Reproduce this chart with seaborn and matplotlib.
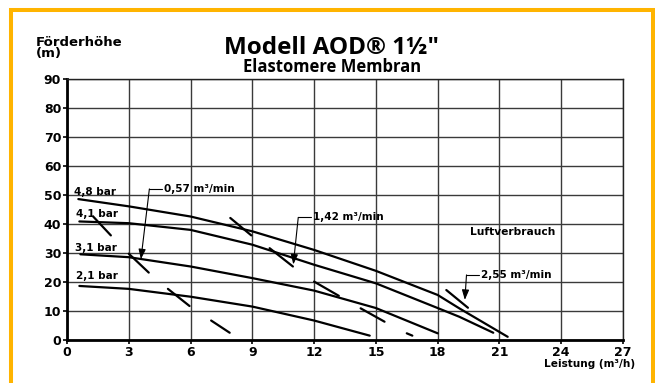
import matplotlib
matplotlib.use("Agg")
import matplotlib.pyplot as plt
import seaborn as sns
import pandas as pd
from matplotlib.patches import Rectangle

# ---------------- data ----------------
curve_labels = ["4,8 bar", "4,1 bar", "3,1 bar", "2,1 bar"]
flow_48 = [0.55, 3, 6, 9, 12, 15, 18, 19.05, 21.4]
head_48 = [48.5, 46.0, 42.5, 37.4, 31.0, 23.8, 15.5, 10.9, 1.1]
flow_41 = [0.6, 3, 6, 9, 12, 15, 18, 19.05, 20.7]
head_41 = [40.8, 40.2, 37.9, 32.8, 25.9, 19.5, 11.0, 8.0, 2.5]
flow_31 = [0.65, 3, 6, 9, 12, 15, 18.0]
head_31 = [29.5, 28.5, 25.3, 21.3, 17.0, 11.0, 2.3]
flow_21 = [0.6, 3, 6, 9, 12, 14.7]
head_21 = [18.6, 17.6, 14.9, 11.5, 6.7, 1.5]

# air consumption iso-segments (start / end)
seg_x0 = [1.27, 3.0, 4.9, 7.0, 7.93, 9.84, 12.0, 14.26, 16.5, 18.42]
seg_y0 = [42.5, 29.7, 17.6, 6.7, 42.0, 31.6, 20.1, 10.9, 2.3, 17.2]
seg_x1 = [2.13, 3.97, 5.95, 7.9, 8.95, 10.97, 13.2, 15.42, 16.77, 19.47]
seg_y1 = [36.0, 23.2, 11.7, 2.5, 36.0, 25.3, 15.2, 6.3, 1.5, 11.1]

# label positions for the pressure curves
label_x = [0.34, 0.42, 0.37, 0.43]
label_y = [50.0, 42.5, 30.8, 20.9]

# air consumption callouts
air_labels = ["0,57 m³/min", "1,42 m³/min", "2,55 m³/min"]
air_text_x = [4.7, 11.96, 20.12]
air_text_y = [52.0, 42.2, 22.4]
air_corner_x = [4.0, 11.23, 19.4]
air_tip_x = [3.59, 10.99, 19.32]
air_tip_y = [27.8, 26.0, 13.8]

x_ticks = [0, 3, 6, 9, 12, 15, 18, 21, 24, 27]
y_ticks = [0, 10, 20, 30, 40, 50, 60, 70, 80, 90]

# ---------------- frame ----------------
sns.set_theme(style="white")
plt.rcParams["font.family"] = ["DejaVu Sans"]

fig = plt.figure(figsize=(6.55, 3.83), dpi=100)
ax = fig.add_axes([67 / 655, 1 - 340 / 383, (623 - 67) / 655, (340 - 78.5) / 383])

curves = pd.concat([
    pd.DataFrame({"flow": flow_48, "head": head_48, "p": curve_labels[0]}),
    pd.DataFrame({"flow": flow_41, "head": head_41, "p": curve_labels[1]}),
    pd.DataFrame({"flow": flow_31, "head": head_31, "p": curve_labels[2]}),
    pd.DataFrame({"flow": flow_21, "head": head_21, "p": curve_labels[3]}),
])
sns.lineplot(data=curves, x="flow", y="head", units="p", estimator=None,
             color="black", lw=1.6, sort=False, ax=ax, legend=False)

segs = []
for i in range(len(seg_x0)):
    segs.append({"seg": i, "flow": seg_x0[i], "head": seg_y0[i]})
    segs.append({"seg": i, "flow": seg_x1[i], "head": seg_y1[i]})
segs = pd.DataFrame(segs)
sns.lineplot(data=segs, x="flow", y="head", units="seg", estimator=None,
             color="black", lw=1.6, sort=False, ax=ax, legend=False)

for lab, lx, ly in zip(curve_labels, label_x, label_y):
    ax.text(lx, ly, lab, fontsize=7.5, fontweight="bold", ha="left",
            va="baseline", color="black")

for lab, tx, ty, cx, px, py in zip(air_labels, air_text_x, air_text_y,
                                    air_corner_x, air_tip_x, air_tip_y):
    ax.text(tx, ty, lab, fontsize=7.5, fontweight="bold", ha="left",
            va="center", color="black")
    ax.plot([cx, tx - 0.1], [ty, ty], color="black", lw=0.8)
    ax.annotate("", xy=(px, py), xytext=(cx, ty),
                arrowprops=dict(arrowstyle="-|>,head_length=0.5,head_width=0.18",
                                color="black", lw=0.8, shrinkA=0, shrinkB=0))

ax.text(21.65, 37.0, "Luftverbrauch", fontsize=7.7, fontweight="bold",
        ha="center", va="center", color="black")

ax.set_xlim(0, 27)
ax.set_ylim(0, 90)
ax.set_xticks(x_ticks)
ax.set_yticks(y_ticks)
ax.set_xticklabels([str(v) for v in x_ticks], fontsize=9, fontweight="bold")
ax.set_yticklabels([str(v) for v in y_ticks], fontsize=9, fontweight="bold")
ax.grid(True, color="#3a3a3a", lw=1.0)
ax.set_axisbelow(True)
ax.tick_params(axis="both", length=3, width=1.2, color="black", pad=1.2,
               labelcolor="black", bottom=True, left=True)
for side in ["top", "right"]:
    ax.spines[side].set_color("#222222")
    ax.spines[side].set_linewidth(1.0)
for side in ["left", "bottom"]:
    ax.spines[side].set_color("black")
    ax.spines[side].set_linewidth(2.0)

ax.set_xlabel("Leistung (m³/h)", fontsize=7.6, fontweight="bold", ha="right",
              va="center", color="black")
ax.xaxis.set_label_coords((635 - 67) / 556, (340 - 364) / 261.5)
ax.set_ylabel("Förderhöhe\n(m)", fontsize=9.5, fontweight="bold", rotation=0,
              ha="left", va="top", color="black", linespacing=0.85)
ax.yaxis.set_label_coords((36 - 67) / 556, (340 - 36) / 261.5)

fig.text(332 / 655, 1 - 54 / 383, "Modell AOD® 1½″", fontsize=17.5,
         fontweight="bold", ha="center", va="baseline", color="black",
         family=["Open Sans", "DejaVu Sans"])
fig.text(332 / 655, 1 - 72.5 / 383, "Elastomere Membran", fontsize=12,
         fontweight="bold", ha="center", va="baseline", color="black",
         family=["Open Sans", "DejaVu Sans"])

fig.add_artist(Rectangle((11.3 / 655, -0.1), (653 - 11.3) / 655, 1.1 - 10.3 / 383,
                         transform=fig.transFigure, fill=False,
                         edgecolor="#FFB400", lw=2.9, clip_on=False))

fig.savefig("out.png", dpi=100)
